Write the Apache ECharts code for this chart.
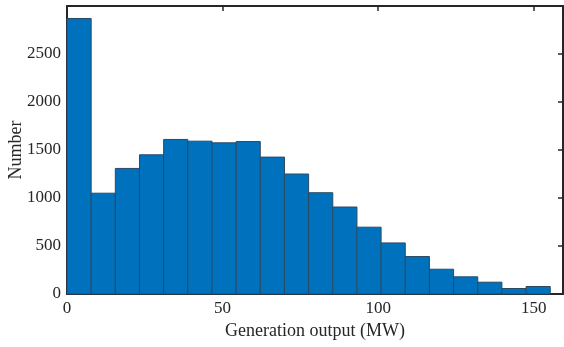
<!DOCTYPE html>
<html>
<head>
<meta charset="utf-8">
<script src="https://cdn.jsdelivr.net/npm/echarts@6/dist/echarts.min.js"></script>
<style>
  html, body { margin: 0; padding: 0; background: #fff; }
  #main { width: 564px; height: 347px; }
</style>
</head>
<body>
<div id="main"></div>
<script>
// histogram counts per bin
const counts = [2870, 1050, 1308, 1450, 1610, 1592, 1575, 1588, 1426, 1250,
                1055, 906, 696, 532, 390, 258, 179, 123, 57, 78];
const binStart = 0;
const binWidth = 7.765;
const xTicks = [0, 50, 100, 150];
const yTicks = [0, 500, 1000, 1500, 2000, 2500];

const bins = counts.map((c, i) => [binStart + i * binWidth, binStart + (i + 1) * binWidth, c]);

const font = '"Liberation Serif", "Times New Roman", serif';
const axisColor = '#262626';

const chart = echarts.init(document.getElementById('main'));
chart.setOption({
  animation: false,
  grid: { left: 67, right: 1, top: 6, bottom: 53, outerBoundsMode: 'none' },
  xAxis: [
    {
      type: 'value', min: 0, max: 159.4, interval: 50,
      name: 'Generation output (MW)', nameLocation: 'middle', nameGap: 27,
      nameTextStyle: { fontFamily: font, fontSize: 18, color: axisColor },
      axisLine: { onZero: false, lineStyle: { color: axisColor, width: 2 } },
      axisTick: { inside: true, length: 5, lineStyle: { color: axisColor, width: 1.5 } },
      axisLabel: { fontFamily: font, fontSize: 17, color: axisColor, margin: 6, showMaxLabel: false,
        formatter: v => xTicks.includes(v) ? String(v) : '' },
      splitLine: { show: false }
    },
    {
      type: 'value', position: 'top', min: 0, max: 159.4, interval: 50,
      axisLine: { show: true, onZero: false, lineStyle: { color: axisColor, width: 2 } },
      axisTick: { show: true, inside: true, length: 5, lineStyle: { color: axisColor, width: 1.5 } },
      axisLabel: { show: false },
      splitLine: { show: false }
    }
  ],
  yAxis: [
    {
      type: 'value', min: 0, max: 3000, interval: 500,
      name: 'Number', nameLocation: 'middle', nameGap: 42, nameMoveOverlap: false,
      nameTextStyle: { fontFamily: font, fontSize: 18, color: axisColor },
      axisLine: { show: true, onZero: false, lineStyle: { color: axisColor, width: 2 } },
      axisTick: { show: true, inside: true, length: 5, lineStyle: { color: axisColor, width: 1.5 } },
      axisLabel: { fontFamily: font, fontSize: 17, color: axisColor, margin: 6,
        formatter: v => yTicks.includes(v) ? String(v) : '' },
      splitLine: { show: false }
    },
    {
      type: 'value', position: 'right', min: 0, max: 3000, interval: 500,
      axisLine: { show: true, onZero: false, lineStyle: { color: axisColor, width: 2 } },
      axisTick: { show: true, inside: true, length: 5, lineStyle: { color: axisColor, width: 1.5 } },
      axisLabel: { show: false },
      splitLine: { show: false }
    }
  ],
  series: [{
    type: 'custom',
    data: bins,
    encode: { x: [0, 1], y: 2 },
    z: 1,
    renderItem: function (params, api) {
      const p0 = api.coord([api.value(0), 0]);
      const p1 = api.coord([api.value(1), api.value(2)]);
      return {
        type: 'rect',
        shape: { x: p0[0], y: p1[1], width: p1[0] - p0[0], height: p0[1] - p1[1] },
        style: { fill: '#0072BD', stroke: '#2a4a63', lineWidth: 1 }
      };
    }
  }]
});
</script>
</body>
</html>
